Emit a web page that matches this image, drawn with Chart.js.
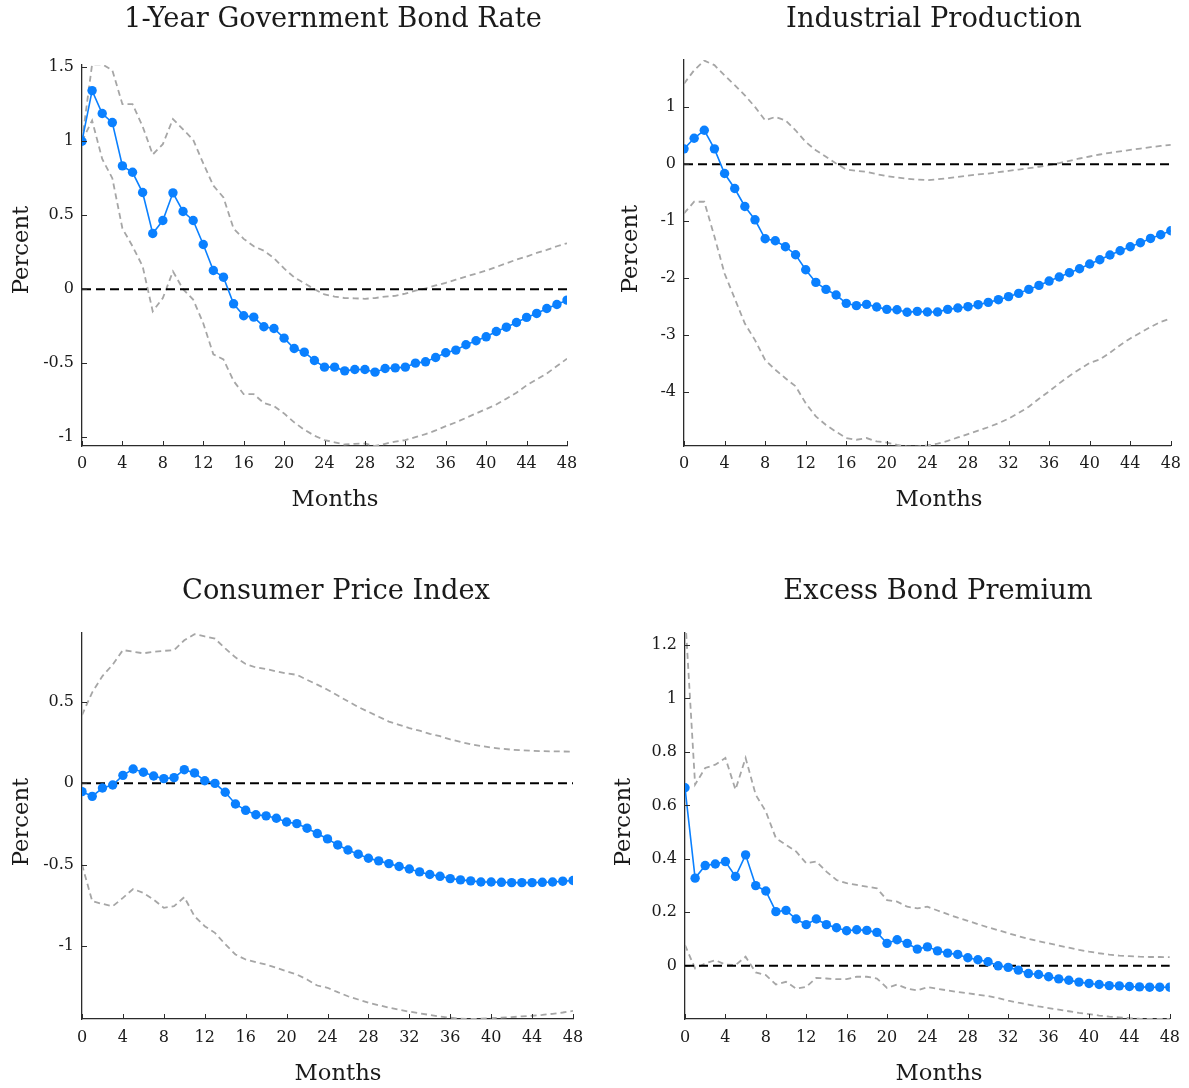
<!DOCTYPE html>
<html>
<head>
<meta charset="utf-8">
<script src="https://cdn.jsdelivr.net/npm/chart.js@4.4.1/dist/chart.umd.min.js"></script>
<style>
  body { margin: 0; background: #fff; width: 1189px; height: 1088px; overflow: hidden; position: relative; }
  canvas { position: absolute; }
  .txt { position: absolute; width: 500px; text-align: center; font-family: 'DejaVu Serif', serif; color: #1a1a1a; white-space: nowrap; }
  .ttl { font-size: 27.3px; line-height: 32px; }
  .lab { font-size: 22.7px; line-height: 26px; }
  .rot { transform: rotate(-90deg); }
</style>
</head>
<body>
<canvas id="c1" style="left:0px;top:0px" width="595" height="520"></canvas>
<canvas id="c2" style="left:602px;top:0px" width="587" height="520"></canvas>
<canvas id="c3" style="left:0px;top:574px" width="595" height="514"></canvas>
<canvas id="c4" style="left:603px;top:574px" width="586" height="514"></canvas>

<div class="txt ttl" style="left:83px;top:2px">1-Year Government Bond Rate</div>
<div class="txt ttl" style="left:684px;top:2px">Industrial Production</div>
<div class="txt ttl" style="left:86px;top:574px">Consumer Price Index</div>
<div class="txt ttl" style="left:688px;top:574px">Excess Bond Premium</div>

<div class="txt lab" style="left:85px;top:485px">Months</div>
<div class="txt lab" style="left:689px;top:485px">Months</div>
<div class="txt lab" style="left:88px;top:1059px">Months</div>
<div class="txt lab" style="left:689px;top:1059px">Months</div>

<div class="txt lab rot" style="left:-230px;top:237px">Percent</div>
<div class="txt lab rot" style="left:379px;top:236px">Percent</div>
<div class="txt lab rot" style="left:-230px;top:809px">Percent</div>
<div class="txt lab rot" style="left:372px;top:809px">Percent</div>

<script>
// horizon in months
const months = [0, 1, 2, 3, 4, 5, 6, 7, 8, 9, 10, 11, 12, 13, 14, 15, 16, 17, 18, 19, 20, 21, 22, 23, 24,
                25, 26, 27, 28, 29, 30, 31, 32, 33, 34, 35, 36, 37, 38, 39, 40, 41, 42, 43, 44, 45, 46, 47, 48];
const zeroX = [0, 48];
const zeroY = [0, 0];

// 1-year government bond rate
const rateIrf = [1.0, 1.342, 1.187, 1.126, 0.833, 0.79, 0.653, 0.376, 0.464, 0.651,
                 0.525, 0.464, 0.302, 0.126, 0.081, -0.099, -0.18, -0.189, -0.254, -0.266,
                 -0.331, -0.401, -0.426, -0.482, -0.527, -0.527, -0.552, -0.543, -0.543, -0.561,
                 -0.536, -0.532, -0.527, -0.5, -0.491, -0.462, -0.43, -0.412, -0.376, -0.349,
                 -0.322, -0.286, -0.257, -0.225, -0.191, -0.164, -0.131, -0.104, -0.074];
const rateUpper = [1.0, 1.52, 1.52, 1.48, 1.25, 1.25, 1.10, 0.91, 0.98, 1.15,
                   1.08, 1.01, 0.85, 0.70, 0.62, 0.41, 0.34, 0.29, 0.26, 0.21,
                   0.14, 0.08, 0.04, 0.0, -0.036, -0.05, -0.06, -0.062, -0.065, -0.06,
                   -0.05, -0.045, -0.03, -0.01, 0.005, 0.025, 0.043, 0.064, 0.085, 0.105,
                   0.125, 0.15, 0.175, 0.2, 0.22, 0.245, 0.265, 0.29, 0.31];
const rateLower = [1.0, 1.14, 0.88, 0.75, 0.41, 0.29, 0.155, -0.15, -0.06, 0.12,
                   0.0, -0.07, -0.23, -0.44, -0.475, -0.62, -0.71, -0.71, -0.77, -0.79,
                   -0.84, -0.90, -0.95, -0.99, -1.02, -1.035, -1.05, -1.045, -1.043, -1.06,
                   -1.045, -1.03, -1.02, -1.0, -0.98, -0.955, -0.926, -0.9, -0.87, -0.84,
                   -0.81, -0.78, -0.74, -0.70, -0.65, -0.61, -0.57, -0.52, -0.47];

// industrial production
const ipIrf = [0.269, 0.456, 0.596, 0.269, -0.164, -0.427, -0.743, -0.977, -1.31, -1.345,
               -1.45, -1.59, -1.854, -2.076, -2.199, -2.298, -2.444, -2.485, -2.462, -2.509,
               -2.55, -2.556, -2.60, -2.585, -2.596, -2.596, -2.55, -2.526, -2.503, -2.468,
               -2.427, -2.38, -2.327, -2.269, -2.199, -2.129, -2.053, -1.982, -1.906, -1.836,
               -1.754, -1.678, -1.596, -1.52, -1.45, -1.38, -1.304, -1.24, -1.17];
const ipUpper = [1.415, 1.65, 1.82, 1.74, 1.56, 1.39, 1.21, 1.006, 0.77, 0.83,
                 0.77, 0.596, 0.39, 0.245, 0.129, 0.012, -0.094, -0.117, -0.135, -0.175,
                 -0.21, -0.234, -0.255, -0.27, -0.28, -0.265, -0.245, -0.222, -0.2, -0.18,
                 -0.164, -0.14, -0.118, -0.094, -0.07, -0.045, -0.018, 0.02, 0.06, 0.1,
                 0.135, 0.17, 0.2, 0.225, 0.25, 0.275, 0.3, 0.32, 0.34];
const ipLower = [-0.865, -0.66, -0.66, -1.27, -1.92, -2.36, -2.80, -3.09, -3.44, -3.61,
                 -3.76, -3.90, -4.2, -4.43, -4.58, -4.70, -4.81, -4.84, -4.81, -4.87,
                 -4.89, -4.93, -4.96, -4.96, -4.94, -4.91, -4.86, -4.80, -4.74, -4.68,
                 -4.62, -4.55, -4.47, -4.37, -4.26, -4.12, -3.99, -3.85, -3.72, -3.6,
                 -3.49, -3.43, -3.31, -3.18, -3.06, -2.96, -2.86, -2.77, -2.71];

// consumer price index
const cpiIrf = [-0.051, -0.08, -0.029, -0.01, 0.049, 0.088, 0.068, 0.045, 0.029, 0.035,
                0.084, 0.064, 0.016, 0.0, -0.055, -0.127, -0.166, -0.193, -0.2, -0.215,
                -0.238, -0.248, -0.276, -0.309, -0.342, -0.379, -0.41, -0.436, -0.461, -0.477,
                -0.494, -0.512, -0.527, -0.545, -0.561, -0.572, -0.586, -0.594, -0.6, -0.607,
                -0.607, -0.609, -0.611, -0.611, -0.611, -0.609, -0.607, -0.602, -0.598];
const cpiUpper = [0.42, 0.56, 0.66, 0.73, 0.82, 0.81, 0.80, 0.81, 0.815, 0.82,
                  0.88, 0.918, 0.904, 0.89, 0.83, 0.775, 0.734, 0.713, 0.703, 0.689,
                  0.676, 0.668, 0.637, 0.607, 0.576, 0.54, 0.505, 0.47, 0.44, 0.41,
                  0.38, 0.36, 0.34, 0.324, 0.305, 0.29, 0.27, 0.255, 0.24, 0.23,
                  0.22, 0.213, 0.207, 0.203, 0.2, 0.198, 0.197, 0.196, 0.195];
const cpiLower = [-0.5, -0.725, -0.742, -0.756, -0.705, -0.65, -0.674, -0.715, -0.766, -0.756,
                  -0.70, -0.818, -0.879, -0.92, -0.99, -1.053, -1.084, -1.1, -1.115, -1.135,
                  -1.156, -1.176, -1.207, -1.244, -1.258, -1.285, -1.31, -1.33, -1.35, -1.365,
                  -1.38, -1.393, -1.405, -1.415, -1.425, -1.435, -1.442, -1.448, -1.45, -1.448,
                  -1.445, -1.442, -1.438, -1.434, -1.43, -1.425, -1.418, -1.41, -1.40];

// excess bond premium
const ebpIrf = [0.666, 0.328, 0.375, 0.381, 0.39, 0.334, 0.415, 0.3, 0.28, 0.2025,
                0.2075, 0.175, 0.154, 0.175, 0.154, 0.1425, 0.131, 0.135, 0.1325, 0.125,
                0.084, 0.0975, 0.084, 0.0625, 0.071, 0.056, 0.0475, 0.0425, 0.03, 0.0225,
                0.015, 0.0, -0.006, -0.016, -0.029, -0.0325, -0.041, -0.049, -0.054, -0.061,
                -0.066, -0.07, -0.074, -0.075, -0.0775, -0.079, -0.08, -0.08, -0.08];
const ebpUpper = [1.32, 0.678, 0.74, 0.7525, 0.7775, 0.659, 0.7775, 0.64, 0.5775, 0.4775,
                  0.4525, 0.4275, 0.384, 0.39, 0.3525, 0.321, 0.309, 0.3025, 0.296, 0.29,
                  0.246, 0.24, 0.221, 0.215, 0.221, 0.207, 0.193, 0.18, 0.168, 0.156,
                  0.144, 0.133, 0.122, 0.111, 0.101, 0.092, 0.084, 0.076, 0.068, 0.06,
                  0.053, 0.047, 0.042, 0.038, 0.036, 0.034, 0.033, 0.033, 0.0325];
const ebpLower = [0.0775, -0.01, 0.009, 0.021, 0.005, 0.0025, 0.034, -0.025, -0.035, -0.07,
                  -0.06, -0.085, -0.079, -0.045, -0.0475, -0.05, -0.05, -0.041, -0.041, -0.0475,
                  -0.0825, -0.07, -0.085, -0.092, -0.08, -0.086, -0.092, -0.098, -0.103, -0.108,
                  -0.113, -0.121, -0.13, -0.138, -0.145, -0.152, -0.158, -0.164, -0.17, -0.176,
                  -0.181, -0.186, -0.19, -0.193, -0.196, -0.198, -0.199, -0.199, -0.199];

const blue = '#0a80ff';
const bandGray = '#a6a6a6';
const axisColor = '#2b2b2b';
const tickFont = { family: 'DejaVu Serif', size: 16 };

// matlab style tick marks pointing into the axes
const insideTicks = {
    id: 'insideTicks',
    afterDatasetsDraw(chart) {
        const ctx = chart.ctx, a = chart.chartArea;
        const x = chart.scales.x, y = chart.scales.y;
        ctx.save();
        ctx.strokeStyle = axisColor;
        ctx.lineWidth = 1;
        ctx.beginPath();
        x.ticks.forEach(function (t) {
            const px = Math.round(x.getPixelForValue(t.value)) + 0.5;
            ctx.moveTo(px, a.bottom);
            ctx.lineTo(px, a.bottom - 5);
        });
        y.ticks.forEach(function (t) {
            const py = Math.round(y.getPixelForValue(t.value)) + 0.5;
            ctx.moveTo(a.left, py);
            ctx.lineTo(a.left + 5, py);
        });
        ctx.stroke();
        ctx.restore();
    }
};

function xy(xs, ys) {
    return xs.map(function (m, i) { return { x: m, y: ys[i] }; });
}

function makePanel(id, irf, upper, lower, yMin, yMax, yStep, box) {
    const ctx = document.getElementById(id).getContext('2d');
    return new Chart(ctx, {
        type: 'line',
        data: {
            datasets: [{
                data: xy(months, irf),
                borderColor: blue,
                backgroundColor: blue,
                borderWidth: 1.6,
                pointRadius: 4.7,
                pointBorderWidth: 0,
                tension: 0
            }, {
                data: xy(zeroX, zeroY),
                borderColor: '#000',
                borderWidth: 2,
                borderDash: [9, 5],
                pointRadius: 0
            }, {
                data: xy(months, upper),
                borderColor: bandGray,
                borderWidth: 1.8,
                borderDash: [6, 4],
                pointRadius: 0
            }, {
                data: xy(months, lower),
                borderColor: bandGray,
                borderWidth: 1.8,
                borderDash: [6, 4],
                pointRadius: 0
            }]
        },
        options: {
            responsive: false,
            animation: false,
            events: [],
            layout: { padding: { top: box.top, right: box.right, left: 0, bottom: 0 } },
            plugins: { legend: { display: false }, tooltip: { enabled: false } },
            scales: {
                x: {
                    type: 'linear',
                    min: 0,
                    max: 48,
                    grid: { display: false, drawTicks: false },
                    border: { display: true, color: axisColor, width: 1.3 },
                    ticks: { stepSize: 4, font: tickFont, color: '#1a1a1a', padding: box.xPad,
                             maxRotation: 0, autoSkip: false, includeBounds: false },
                    afterFit: function (s) { s.height = box.xh; }
                },
                y: {
                    min: yMin,
                    max: yMax,
                    grid: { display: false, drawTicks: false },
                    border: { display: true, color: axisColor, width: 1.3 },
                    ticks: { stepSize: yStep, font: tickFont, color: '#1a1a1a', padding: 8,
                             includeBounds: false,
                             callback: function (v) { return String(+v.toFixed(2)); } },
                    afterFit: function (s) { s.width = box.yw; }
                }
            }
        },
        plugins: [insideTicks]
    });
}

makePanel('c1', rateIrf, rateUpper, rateLower, -1.06, 1.515, 0.5,
          { top: 65, right: 28, xh: 74, yw: 82, xPad: 8 });
makePanel('c2', ipIrf, ipUpper, ipLower, -4.95, 1.83, 1,
          { top: 60, right: 16, xh: 74, yw: 82, xPad: 8 });
makePanel('c3', cpiIrf, cpiUpper, cpiLower, -1.45, 0.925, 0.5,
          { top: 59, right: 22, xh: 69, yw: 82, xPad: 9 });
makePanel('c4', ebpIrf, ebpUpper, ebpLower, -0.199, 1.245, 0.2,
          { top: 59, right: 12, xh: 69, yw: 82, xPad: 9 });
</script>
</body>
</html>
